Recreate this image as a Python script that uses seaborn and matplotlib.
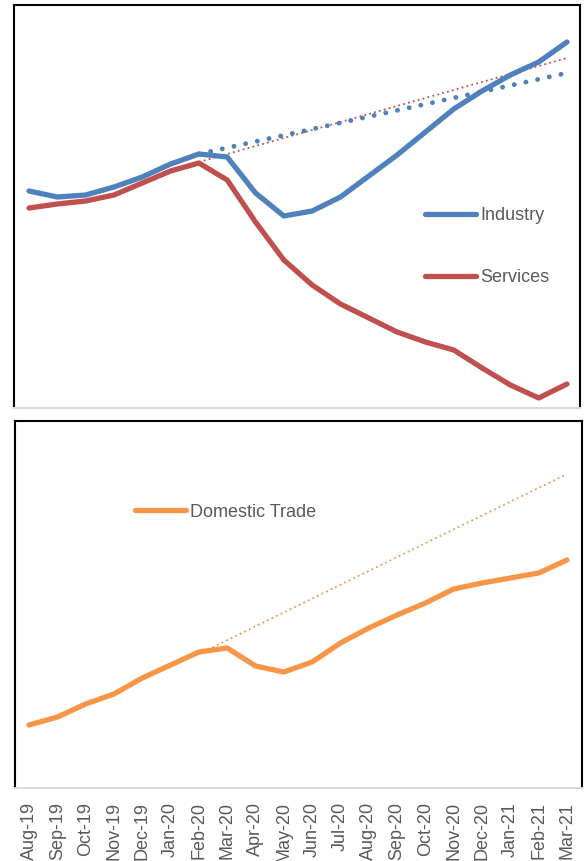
import matplotlib
matplotlib.use("Agg")
import matplotlib.pyplot as plt
import seaborn as sns
import pandas as pd
import numpy as np

months = ["Aug-19", "Sep-19", "Oct-19", "Nov-19", "Dec-19", "Jan-20", "Feb-20",
          "Mar-20", "Apr-20", "May-20", "Jun-20", "Jul-20", "Aug-20", "Sep-20",
          "Oct-20", "Nov-20", "Dec-20", "Jan-21", "Feb-21", "Mar-21"]

industry = [100, 98.5, 99, 101, 103.5, 106.75, 109.25, 108.5, 99.5, 93.75,
            95, 98.5, 103.75, 109, 114.75, 120.5, 125, 129, 132.25, 137.25]
services = [95.75, 96.75, 97.5, 99, 102, 105, 107, 102.75, 92.25, 82.75,
            76.5, 71.75, 68.25, 64.75, 62.25, 60.25, 55.75, 51.5, 48.25, 51.75]
domestic_trade = [100, 102, 105.25, 107.75, 111.75, 115, 118.25, 119.25, 114.75, 113.25,
                  115.75, 120.5, 124.25, 127.5, 130.5, 134, 135.5, 136.75, 138, 141.25]

# pre-pandemic trend lines (start Feb-20, end Mar-21)
trend_months = ["Feb-20", "Mar-21"]
industry_trend = [109.25, 129.5]
services_trend = [107.25, 133.25]
trade_trend = [117.75, 162.75]

BLUE = "#4F81BD"
RED = "#C0504D"
ORANGE = "#F79646"
GRAY = "#595959"

sns.set_style("white")
plt.rcParams['font.family'] = ['Liberation Sans Narrow', 'Liberation Sans', 'DejaVu Sans']

pos = {m: i for i, m in enumerate(months)}
x = [pos[m] for m in months]
xt = [pos[m] for m in trend_months]

df = pd.DataFrame({"x": x, "Industry": industry, "Services": services,
                   "Domestic Trade": domestic_trade})

fig = plt.figure(figsize=(5.84, 8.61), dpi=100)
W, H = 584, 861

def add_ax(l, t, r, b):
    return fig.add_axes([l / W, (H - b) / H, (r - l) / W, (b - t) / H])

ax1 = add_ax(14, 5, 580, 408)
ax2 = add_ax(15, 421, 582, 788)

def x_limits(ax, l, r):
    x0, dx = 29, (567 - 29) / 19
    ax.set_xlim((l - x0) / dx, (r - x0) / dx)

# ---- top panel ----
ax1.plot(xt, services_trend, color=RED, lw=1.3, linestyle=(0, (1, 1.8)), zorder=2)
ax1.plot(xt, industry_trend, color=BLUE, lw=3.5, linestyle=(0, (0.01, 2.45)),
         dash_capstyle='round', zorder=2)
sns.lineplot(data=df, x="x", y="Services", ax=ax1, color=RED, lw=3.8,
             label="Services", zorder=3)
sns.lineplot(data=df, x="x", y="Industry", ax=ax1, color=BLUE, lw=3.8,
             label="Industry", zorder=4)
for ln in ax1.get_lines()[2:]:
    ln.set_solid_capstyle('round')
x_limits(ax1, 14, 580)
ax1.set_ylim(45.75, 146.5)
handles, labels = ax1.get_legend_handles_labels()
order = [labels.index("Industry"), labels.index("Services")]
leg1 = ax1.legend([handles[i] for i in order], [labels[i] for i in order],
                  loc="center left", bbox_to_anchor=(0.727, 0.401), frameon=False,
                  fontsize=13, handlelength=2.8, handletextpad=0.25, labelspacing=2.5,
                  borderpad=0, borderaxespad=0)
for t in leg1.get_texts():
    t.set_color(GRAY)

# ---- bottom panel ----
ax2.plot(xt, trade_trend, color=ORANGE, lw=1.3, linestyle=(0, (1, 1.8)), zorder=2)
sns.lineplot(data=df, x="x", y="Domestic Trade", ax=ax2, color=ORANGE, lw=3.8,
             label="Domestic Trade", zorder=3)
for ln in ax2.get_lines()[1:]:
    ln.set_solid_capstyle('round')
x_limits(ax2, 15, 582)
ax2.set_ylim(84.25, 176)
leg2 = ax2.legend(loc="center left", bbox_to_anchor=(0.212, 0.752), frameon=False,
                  fontsize=13, handlelength=2.8, handletextpad=0.25,
                  borderpad=0, borderaxespad=0)
for t in leg2.get_texts():
    t.set_color(GRAY)

for ax in (ax1, ax2):
    ax.set_xlabel("")
    ax.set_ylabel("")
    ax.set_yticks([])
    for s in ("left", "top", "right"):
        ax.spines[s].set_color("black")
        ax.spines[s].set_linewidth(1.5)
    ax.spines["bottom"].set_color("#D9D9D9")
    ax.spines["bottom"].set_linewidth(1.5)

ax1.set_xticks([])
ax2.set_xticks(x)
ax2.set_xticklabels(months, rotation=90, color=GRAY, fontsize=13)
ax2.tick_params(axis="x", length=0, pad=10)

fig.savefig("out.png", dpi=100)
